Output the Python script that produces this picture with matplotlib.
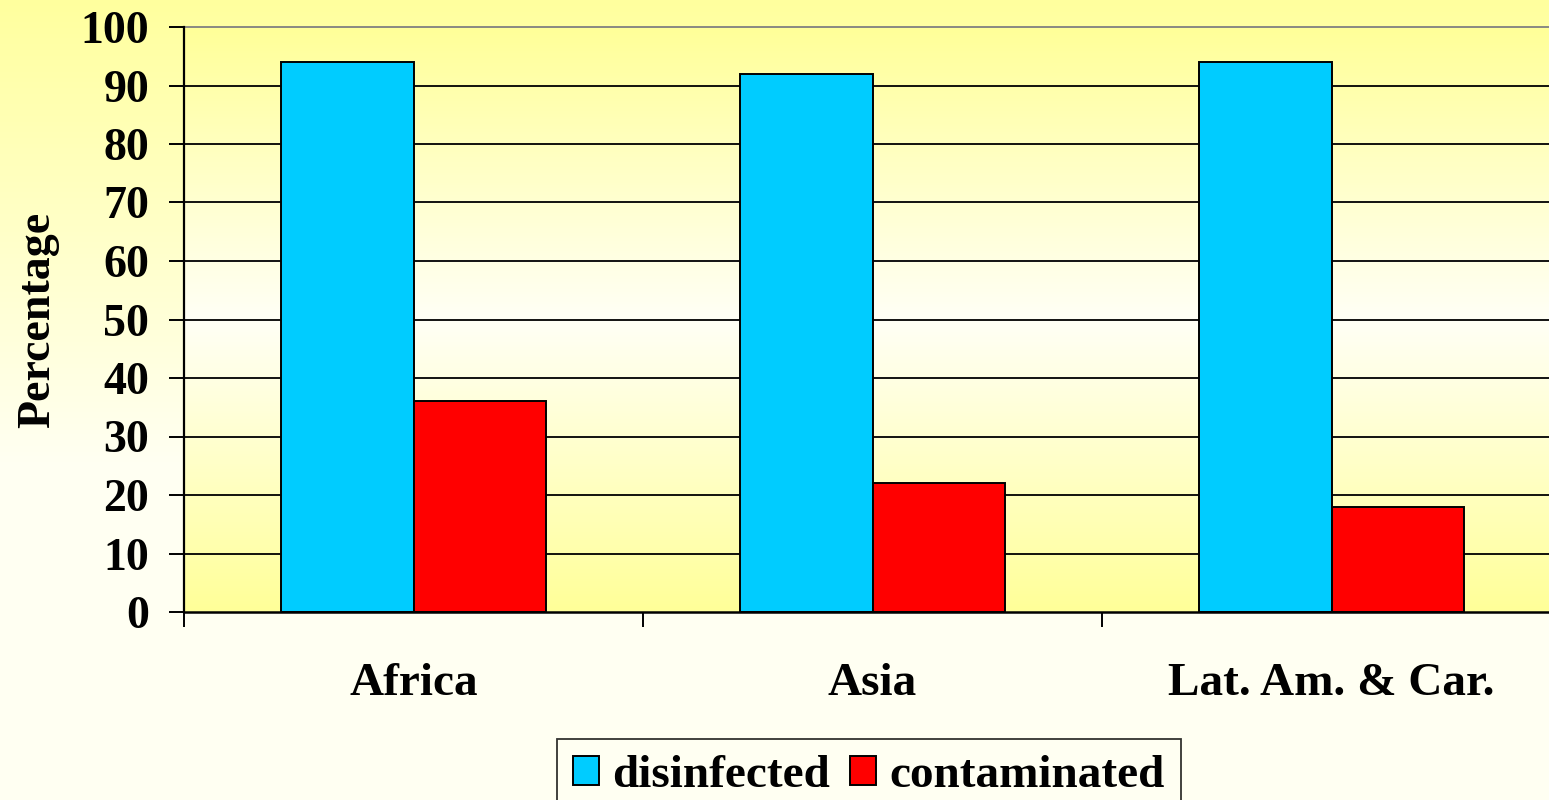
import numpy as np
import matplotlib
matplotlib.use("Agg")
import matplotlib.pyplot as plt
from matplotlib.colors import LinearSegmentedColormap

# ---- data ----
categories = ["Africa", "Asia", "Lat. Am. & Car."]
disinfected = [94, 92, 94]
contaminated = [36, 22, 18]
series_names = ["disinfected", "contaminated"]
yticks = [0, 10, 20, 30, 40, 50, 60, 70, 80, 90, 100]

W, H = 1549, 800
DPI = 100
plt.rcParams['font.family'] = ['Liberation Serif', 'DejaVu Serif']
plt.rcParams['font.weight'] = 'bold'

fig = plt.figure(figsize=(W / DPI, H / DPI), dpi=DPI)

# figure background gradient (yellow at top -> cream lower down)
bg = fig.add_axes([0, 0, 1, 1], zorder=-10)
bg.axis('off')
yy = np.linspace(0, 1, 400)  # 0 = top
t = np.clip(yy / 0.58, 0, 1)
top = np.array([1.0, 1.0, 0.62])
bot = np.array([1.0, 1.0, 0.95])
cols = top[None, :] * (1 - t[:, None]) + bot[None, :] * t[:, None]
img = np.repeat(cols[:, None, :], 2, axis=1)
bg.imshow(img, aspect='auto', extent=[0, 1, 0, 1], origin='upper')
bg.set_xlim(0, 1); bg.set_ylim(0, 1)

left_px, right_px, top_px, bot_px = 184, 184 + 3 * 459, 27, 612
ax = fig.add_axes([left_px / W, 1 - bot_px / H, (right_px - left_px) / W, (bot_px - top_px) / H])
ax.set_facecolor('none')

# plot-area gradient: yellow top/bottom, near-white middle
cmap = LinearSegmentedColormap.from_list(
    'pa', [(0.0, '#FFFF99'), (0.5, '#FFFFF6'), (1.0, '#FFFF99')])
grad = np.linspace(0, 1, 300)[:, None]
ax.imshow(grad, cmap=cmap, aspect='auto', extent=[-0.5, 2.5, 0, 100],
          origin='lower', zorder=0)

x = np.arange(len(categories))
w = 0.288
ax.bar(x - w / 2, disinfected, width=w, color='#00CCFF', edgecolor='black',
       linewidth=1.4, zorder=3, label=series_names[0])
ax.bar(x + w / 2, contaminated, width=w, color='#FF0000', edgecolor='black',
       linewidth=1.4, zorder=3, label=series_names[1])

ax.set_xlim(-0.5, 2.5)
ax.set_ylim(0, 100)

# grid lines
for v in yticks[1:-1]:
    ax.axhline(v, color='black', linewidth=1.3, zorder=1)

ax.spines['top'].set_color('#808080')
ax.spines['top'].set_linewidth(1.3)
ax.spines['right'].set_visible(False)
ax.spines['left'].set_linewidth(1.6)
ax.spines['bottom'].set_linewidth(1.8)
ax.spines['left'].set_zorder(4)
ax.spines['bottom'].set_zorder(4)

ax.set_yticks(yticks)
ax.set_yticklabels([str(v) for v in yticks])
ax.tick_params(axis='y', direction='out', length=11, width=1.4, pad=14,
               labelsize=33, colors='black')
for lab in ax.get_yticklabels():
    lab.set_fontweight('bold')

ax.set_xticks(x)
ax.set_xticklabels(categories)
ax.tick_params(axis='x', which='major', length=0, pad=37, labelsize=34)
for lab in ax.get_xticklabels():
    lab.set_fontweight('bold')
ax.set_xticks([-0.5, 0.5, 1.5, 2.5], minor=True)
ax.tick_params(axis='x', which='minor', direction='out', length=11, width=1.4)

fig.text(38 / W, 1 - 320 / H, "Percentage", rotation=90, ha='center',
         va='center', fontsize=33, fontweight='bold')

leg = fig.legend(loc='upper left', bbox_to_anchor=(557 / W, 1 - 739 / H),
                 ncol=2, fontsize=34, frameon=True, fancybox=False,
                 handlelength=0.55, handleheight=0.55, handletextpad=0.28,
                 columnspacing=0.42, borderpad=0.34, borderaxespad=0)
leg.get_frame().set_edgecolor('black')
leg.get_frame().set_linewidth(1.3)
leg.get_frame().set_facecolor('#FFFFF2')
for txt in leg.get_texts():
    txt.set_fontweight('bold')

fig.savefig('out.png', dpi=DPI)
